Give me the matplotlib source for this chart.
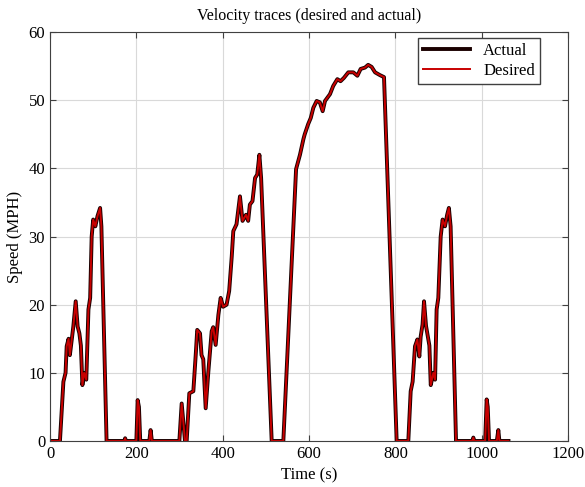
import matplotlib
matplotlib.use("Agg")
import matplotlib.pyplot as plt

# speed trace (time in s, speed in MPH)
time_s = [0, 23, 31, 36, 38.6, 43, 46, 54, 59.5, 64, 68, 71.5, 75, 79, 84, 89, 93,
          96.5, 100, 105, 110, 116, 119, 131,
          172, 174, 176, 200, 203, 206, 209, 230, 233, 236,
          299.6, 305, 312.7, 316.6, 322.7, 332, 338, 341, 347.5, 351, 355, 360.6,
          366.8, 374.5, 378, 383.7, 390, 395.3, 401, 409, 415, 421, 424.6, 432,
          440, 446, 454, 459, 463, 469, 475, 480, 485, 489, 513.5,
          540.5, 570, 579, 587, 590, 598, 604, 610, 617.7, 625, 631.6, 637, 648.6,
          656, 665.6, 673, 681, 691, 702.6, 712, 719.6, 729.7, 737, 745, 753, 764,
          773.7, 803,
          830, 835.5, 840, 845.5, 851, 855.5, 858.6, 863, 866.4, 871, 874, 878.8,
          882, 888, 892, 895.6, 899.5, 905, 909.5, 915, 920, 924, 928, 940.5,
          978, 980.6, 983, 1008, 1011.5, 1014, 1017, 1035, 1038.5, 1041, 1062]
speed_mph = [0, 0, 8.7, 10, 13.9, 15, 12.6, 16.8, 20.5, 16.8, 15.8, 14, 8.2, 10, 9, 19.3, 21,
             30, 32.5, 31.5, 33, 34.2, 31.5, 0,
             0, 0.4, 0, 0, 6, 5, 0, 0, 1.6, 0,
             0, 5.5, 0, 0, 7, 7.3, 13.1, 16.3, 15.8, 12.6, 12, 4.8,
             10.2, 16.1, 16.7, 14.1, 18.5, 21, 19.7, 20, 22, 27.1, 30.8, 31.8,
             35.9, 32.3, 33.2, 32.3, 34.7, 35.2, 38.6, 39.1, 42, 38.6, 0,
             0, 39.9, 42, 44.3, 45, 46.5, 47.4, 48.9, 49.9, 49.7, 48.4, 49.9, 50.9,
             52.1, 53.1, 52.8, 53.3, 54.1, 54.1, 53.6, 54.6, 54.8, 55.2, 54.9, 54.1, 53.7,
             53.4, 0,
             0, 7.3, 8.7, 13.9, 14.9, 12.4, 15.3, 17.1, 20.5, 16.9, 15.8, 14,
             8.2, 10, 9, 19.3, 21, 30, 32.5, 31.5, 33.2, 34.2, 31.5, 0,
             0, 0.5, 0, 0, 6.1, 5, 0, 0, 1.6, 0, 0]

x_ticks = [0, 200, 400, 600, 800, 1000, 1200]
y_ticks = [0, 10, 20, 30, 40, 50, 60]

plt.rcParams['font.family'] = ['Liberation Serif', 'DejaVu Serif']

fig = plt.figure(figsize=(5.85, 4.87), dpi=100)
ax = fig.add_axes([0.0855, 0.0945, 0.8855, 0.8395])

ax.plot(time_s, speed_mph, color="#1a0000", lw=2.8, label="Actual")
ax.plot(time_s, speed_mph, color="#c80000", lw=1.4, label="Desired")

ax.set_xlim(0, 1200)
ax.set_ylim(0, 60)
ax.set_xticks(x_ticks)
ax.set_yticks(y_ticks)
ax.grid(True, color="#d9d9d9", lw=0.8)
ax.set_axisbelow(True)
ax.tick_params(direction="in", top=True, right=True, labelsize=12, length=4,
               color="#404040")
for sp in ax.spines.values():
    sp.set_color("#404040")

ax.set_title("Velocity traces (desired and actual)", fontsize=11.5, pad=9)
ax.set_xlabel("Time (s)", fontsize=12)
ax.set_ylabel("Speed (MPH)", fontsize=12)

leg = ax.legend(loc="upper right", bbox_to_anchor=(0.946, 0.985), borderaxespad=0,
                fancybox=False, framealpha=1, edgecolor="#404040", fontsize=12,
                handlelength=2.8, labelspacing=0.2, borderpad=0.3)
leg.get_frame().set_linewidth(1.0)

fig.savefig("out.png", dpi=100)
